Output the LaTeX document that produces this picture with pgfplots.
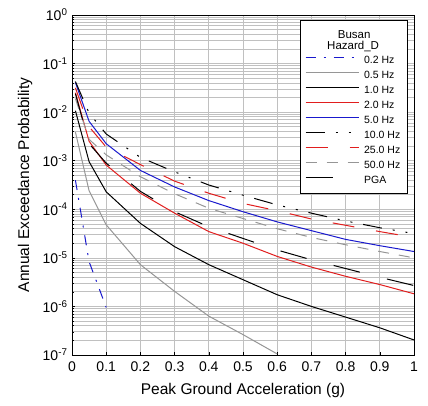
\documentclass[border=0pt]{standalone}
\usepackage{fontspec}
\setmainfont{Liberation Sans}
\usepackage{pgfplots}
\pgfplotsset{compat=1.18}
\definecolor{cblue}{RGB}{25,25,205}
\definecolor{cred}{RGB}{225,30,30}
\definecolor{cgray}{RGB}{150,150,150}
\definecolor{cgrid}{RGB}{192,192,192}
\begin{document}
\begin{tikzpicture}
\begin{axis}[
  scale only axis, width=342pt, height=340pt,
  ymode=log, log basis y=10,
  xmin=0, xmax=1, ymin=1e-7, ymax=1,
  xtick={0,0.1,0.2,0.3,0.4,0.5,0.6,0.7,0.8,0.9,1},
  xticklabels={0,0.1,0.2,0.3,0.4,0.5,0.6,0.7,0.8,0.9,1},
  ytick={1e-7,1e-6,1e-5,1e-4,1e-3,1e-2,1e-1,1},
  yticklabels={10\textsuperscript{-7},10\textsuperscript{-6},10\textsuperscript{-5},10\textsuperscript{-4},10\textsuperscript{-3},10\textsuperscript{-2},10\textsuperscript{-1},10\textsuperscript{0}},
  minor ytick={2e-7,3e-7,4e-7,5e-7,6e-7,7e-7,8e-7,9e-7,
               2e-6,3e-6,4e-6,5e-6,6e-6,7e-6,8e-6,9e-6,
               2e-5,3e-5,4e-5,5e-5,6e-5,7e-5,8e-5,9e-5,
               2e-4,3e-4,4e-4,5e-4,6e-4,7e-4,8e-4,9e-4,
               2e-3,3e-3,4e-3,5e-3,6e-3,7e-3,8e-3,9e-3,
               2e-2,3e-2,4e-2,5e-2,6e-2,7e-2,8e-2,9e-2,
               2e-1,3e-1,4e-1,5e-1,6e-1,7e-1,8e-1,9e-1},
  grid=both,
  major grid style={cgrid, line width=0.7pt},
  minor grid style={cgrid, line width=0.7pt},
  axis line style={black, line width=0.8pt},
  tick align=inside, xtick pos=bottom, ytick pos=left,
  major tick length=3pt, minor tick length=2pt,
  tick style={black, line width=0.6pt},
  tick label style={font=\fontsize{14}{16}\selectfont},
  xticklabel style={yshift=-3pt},
  yticklabel style={xshift=-1pt},
  xlabel={Peak Ground Acceleration (g)},
  ylabel={Annual Exceedance Probability},
  label style={font=\fontsize{15.5}{18}\selectfont},
  xlabel style={at={(axis description cs:0.5,-0.103)}, anchor=center},
  ylabel style={at={(axis description cs:-0.1374,0.5)}, anchor=center},
  legend style={draw=none, fill=none, at={(axis description cs:0.681,0.88)}, anchor=north west,
    inner sep=0pt, font=\fontsize{10.5}{12}\selectfont, row sep=5pt, column sep=5pt,
    nodes={inner sep=0pt, text height=8pt, text depth=2pt}},
  legend image code/.code={\draw[#1] (0pt,3.5pt) -- (53pt,3.5pt);},
  legend cell align=left,
  every axis plot/.append style={line width=1pt},
]
% 0.2 Hz
\addplot[cblue, dash pattern=on 10pt off 8pt on 2pt off 8pt] coordinates {
(0.01,3.98e-4) (0.05,8.32e-6) (0.1,9.55e-7)};
\addlegendentry{0.2 Hz}
% 0.5 Hz
\addplot[cgray] coordinates {
(0.01,3.89e-3) (0.05,2.40e-4) (0.1,4.79e-5) (0.2,7.24e-6) (0.3,2.04e-6)
(0.4,6.31e-7) (0.5,2.63e-7) (0.6,1.05e-7)};
\addlegendentry{0.5 Hz}
% 1.0 Hz
\addplot[black] coordinates {
(0.01,1.07e-2) (0.05,9.55e-4) (0.1,2.29e-4) (0.2,5.13e-5) (0.3,1.70e-5)
(0.4,7.24e-6) (0.5,3.55e-6) (0.6,1.74e-6) (0.7,1.0e-6) (0.8,6.03e-7)
(0.9,3.63e-7) (1.0,2.04e-7)};
\addlegendentry{1.0 Hz}
% 2.0 Hz
\addplot[cred] coordinates {
(0.01,2.51e-2) (0.05,2.51e-3) (0.1,8.13e-4) (0.2,2.14e-4) (0.3,8.32e-5)
(0.4,3.47e-5) (0.5,2.0e-5) (0.6,1.07e-5) (0.7,6.46e-6) (0.8,4.17e-6)
(0.9,2.82e-6) (1.0,1.82e-6)};
\addlegendentry{2.0 Hz}
% 5.0 Hz
\addplot[cblue] coordinates {
(0.01,4.07e-2) (0.05,6.46e-3) (0.1,2.24e-3) (0.2,6.31e-4) (0.3,2.88e-4)
(0.4,1.51e-4) (0.5,8.91e-5) (0.6,5.50e-5) (0.7,3.63e-5) (0.8,2.40e-5)
(0.9,1.78e-5) (1.0,1.35e-5)};
\addlegendentry{5.0 Hz}
% 10.0 Hz
\addplot[black, dash pattern=on 19pt off 11pt on 2pt off 11pt on 2pt off 11pt] coordinates {
(0.01,4.27e-2) (0.05,9.55e-3) (0.1,3.55e-3) (0.2,1.17e-3) (0.3,5.89e-4)
(0.4,3.16e-4) (0.5,1.95e-4) (0.6,1.23e-4) (0.7,8.32e-5) (0.8,5.75e-5)
(0.9,4.17e-5) (1.0,3.16e-5)};
\addlegendentry{10.0 Hz}
% 25.0 Hz
\addplot[cred, dash pattern=on 22pt off 22pt] coordinates {
(0.01,3.16e-2) (0.05,5.01e-3) (0.1,1.91e-3) (0.2,8.32e-4) (0.3,3.80e-4)
(0.4,2.14e-4) (0.5,1.32e-4) (0.6,9.33e-5) (0.7,6.31e-5) (0.8,4.68e-5)
(0.9,3.47e-5) (1.0,2.63e-5)};
\addlegendentry{25.0 Hz}
% 50.0 Hz
\addplot[cgray, dash pattern=on 11pt off 10pt] coordinates {
(0.01,1.91e-2) (0.05,2.75e-3) (0.1,1.32e-3) (0.2,4.68e-4) (0.3,2.09e-4)
(0.4,1.05e-4) (0.5,6.46e-5) (0.6,3.98e-5) (0.7,2.63e-5) (0.8,1.86e-5)
(0.9,1.35e-5) (1.0,1.0e-5)};
\addlegendentry{50.0 Hz}
% PGA
\addplot[black, dash pattern=on 27pt off 28pt] coordinates {
(0.01,2.40e-2) (0.05,2.24e-3) (0.1,8.91e-4) (0.2,2.34e-4) (0.3,8.91e-5)
(0.4,4.37e-5) (0.5,2.51e-5) (0.6,1.45e-5) (0.7,9.12e-6) (0.8,6.03e-6)
(0.9,3.98e-6) (1.0,2.69e-6)};
\addlegendentry{PGA}
% legend frame and title
\draw[black, line width=0.8pt, fill=white] (axis description cs:0.667,0.476) rectangle (axis description cs:0.982,0.985);
\node[font=\fontsize{11.5}{13}\selectfont, inner sep=0pt, anchor=center] at (axis description cs:0.825,0.941) {Busan};
\node[font=\fontsize{11.5}{13}\selectfont, inner sep=0pt, anchor=center] at (axis description cs:0.822,0.906) {Hazard\_D};
\end{axis}
\pgfresetboundingbox
\path[use as bounding box] ([xshift=-72pt,yshift=-51pt]current axis.south west) rectangle ([xshift=14pt,yshift=15pt]current axis.north east);
\end{tikzpicture}
\end{document}
